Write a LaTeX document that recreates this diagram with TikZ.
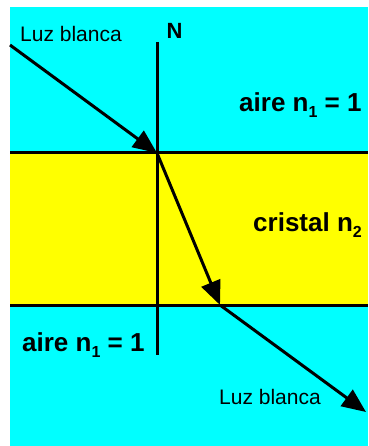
\documentclass[tikz,border=0pt]{standalone}
\usepackage{fontspec}
\setmainfont{Liberation Sans}
\usetikzlibrary{arrows.meta}
\definecolor{airecol}{RGB}{0, 255, 255}
\definecolor{cristalcol}{RGB}{255, 255, 0}
\newcommand{\subidx}[1]{\raisebox{-6pt}{\fontsize{16}{16}\selectfont #1}}
\tikzset{
  rayo/.style={-{Triangle[length=24pt, width=20pt]}, line width=3pt},
  borde/.style={line width=3pt},
  medio/.style={font=\fontsize{26}{26}\selectfont\bfseries, anchor=base west, inner sep=0pt},
  luz/.style={font=\fontsize{21}{21}\selectfont, anchor=base west, inner sep=0pt},
}

\begin{document}
\begin{tikzpicture}[x=1pt, y=-1pt]
  \useasboundingbox (0,0) rectangle (368,446);
  \fill[airecol] (10,7) rectangle (368,446);
  \fill[cristalcol] (10,153) rectangle (368,305);

  % interfaces and normal
  \coordinate (izq1) at (10,153);
  \coordinate (der1) at (368,153);
  \coordinate (izq2) at (10,305);
  \coordinate (der2) at (368,305);
  \coordinate (ntop) at (157,42);
  \coordinate (nbot) at (157,355);
  \draw[borde] (izq1) -- (der1);
  \draw[borde] (izq2) -- (der2);
  \draw[borde] (ntop) -- (nbot);

  % ray path
  \coordinate (fuente) at (10,45);
  \coordinate (entrada) at (157,153);
  \coordinate (salida) at (220,305);
  \coordinate (fin) at (366,412);
  \draw[rayo] (fuente) -- (entrada);
  \draw[rayo] (entrada) -- (salida);
  \draw[rayo] (salida) -- (fin);

  \node[medio, font=\fontsize{22}{22}\selectfont\bfseries, anchor=center] (n) at (174.5,31) {N};
  \node[luz] (luzin) at (20,42) {Luz blanca};
  \node[medio] (aire1) at (239,112) {aire n\subidx{1} = 1};
  \node[medio] (cristal) at (253,231) {cristal n\subidx{2}};
  \node[medio] (aire2) at (22,351) {aire n\subidx{1} = 1};
  \node[luz] (luzout) at (219,404) {Luz blanca};
\end{tikzpicture}
\end{document}
